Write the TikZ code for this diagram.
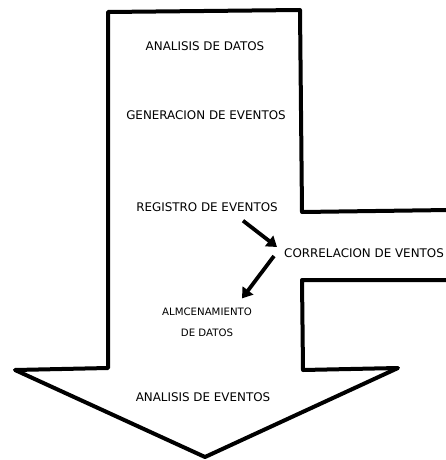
\documentclass[tikz,border=0pt]{standalone}
\usepackage{fontspec}
\setmainfont{DejaVu Sans}
\usetikzlibrary{arrows.meta}

\begin{document}
\begin{tikzpicture}[x=1pt,y=-1pt]
	\tikzset{borde/.style={line width=4pt,line join=round,line cap=round},
		etiqueta/.style={font=\fontsize{11.9}{14}\selectfont,inner sep=1pt},
		chica/.style={font=\fontsize{10.2}{21}\selectfont,inner sep=1pt,align=center},
		flecha/.style={line width=3.8pt,-{Triangle[length=10pt,width=13pt]}}}

	\useasboundingbox[fill=white] (0,0) rectangle (445,460);

	% Contorno de la flecha grande con la rama lateral
	\draw[borde] (449,210) -- (302,212) -- (300,10) -- (108,12) -- (108,368)
		-- (15,370) -- (205,457) -- (398,368) -- (303,370) -- (302,280) -- (449,280);

	% Etapas
	\node[etiqueta] (datos) at (205,46) {ANALISIS DE DATOS};
	\node[etiqueta] (generacion) at (206,115) {GENERACION DE EVENTOS};
	\node[etiqueta] (registro) at (207,207) {REGISTRO DE EVENTOS};
	\node[etiqueta,anchor=west] (correlacion) at (283,253) {CORRELACION DE VENTOS};
	\node[chica] (almacen) at (207,322) {ALMCENAMIENTO\\DE DATOS};
	\node[etiqueta] (eventos) at (203,397) {ANALISIS DE EVENTOS};

	% Flechas entre etapas
	\draw[flecha] ([xshift=36pt,yshift=-8pt]registro.south)
		-- ([xshift=-6pt,yshift=6pt]correlacion.west);
	\draw[flecha] ([xshift=-9pt,yshift=-3pt]correlacion.west)
		-- ([xshift=35pt,yshift=8pt]almacen.north);
\end{tikzpicture}
\end{document}
